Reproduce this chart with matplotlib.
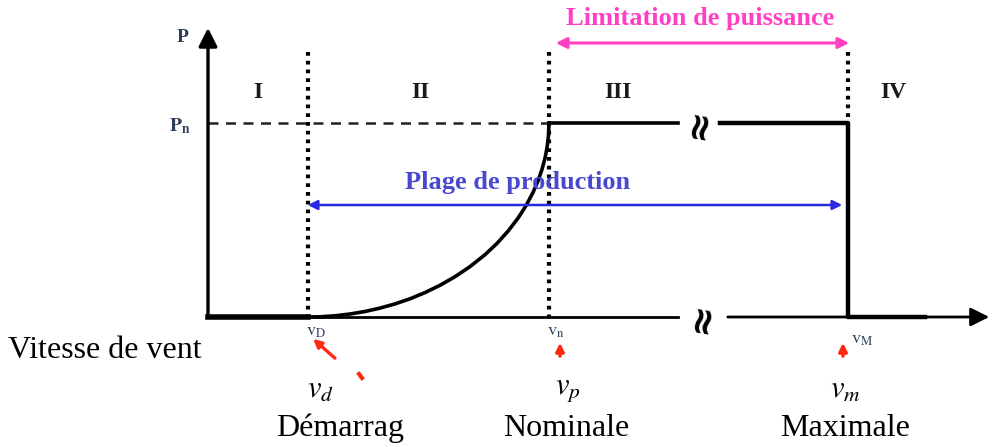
import matplotlib
matplotlib.use("Agg")
import matplotlib.pyplot as plt

plt.rcParams['font.family'] = ['Liberation Serif', 'DejaVu Serif']
plt.rcParams['mathtext.fontset'] = 'stix'

# schematic positions (figure pixels, y downward)
x0 = 208          # origin of the axes
y0 = 317
x_end = 992
y_top = 25
v_marks = [308, 549, 848]          # v_D, v_n, v_M
p_n = 123
zone_names = ['I', 'II', 'III', 'IV']
zone_x = [258, 420, 618, 893]
tick_names = [r'$\mathrm{v}_{\mathrm{D}}$', r'$\mathrm{v}_{\mathrm{n}}$', r'$\mathrm{v}_{\mathrm{M}}$']
tick_x = [316, 556, 862]
tick_y = [331, 332, 339]
speed_syms = [r'$v_d$', r'$v_p$', r'$v_m$']
speed_names = ['Démarrag', 'Nominale', 'Maximale']
speed_x = [340, 566, 845]
sym_x = [320, 568, 845]

# power curve between v_D and v_n
curve_x = [308, 320, 335, 350, 365, 380, 395, 410, 425, 440, 455, 470, 485, 497,
           508, 518, 526, 533, 538, 542, 545, 547, 548.5, 549]
curve_y = [317, 316.8, 315.8, 314.0, 311.5, 308.1, 303.9, 298.8, 292.6, 285.3, 276.7,
           266.6, 254.7, 243.4, 231.2, 218.2, 205.7, 192.5, 180.9, 169.4, 158.2, 147.9,
           135.5, 123]

fig = plt.figure(figsize=(9.94, 4.47), dpi=100)
ax = fig.add_axes([0, 0, 1, 1])
ax.set_xlim(0, 994)
ax.set_ylim(447, 0)
ax.axis('off')

k = 'black'
# axes
ax.annotate('', xy=(x0, y_top), xytext=(x0, y0 + 1),
            arrowprops=dict(arrowstyle='-|>', lw=2.4, color=k, mutation_scale=28))
ax.plot([x0, 678], [y0, y0], color=k, lw=2.0)
ax.annotate('', xy=(x_end, y0), xytext=(725, y0),
            arrowprops=dict(arrowstyle='-|>', lw=2.0, color=k, mutation_scale=28))
ax.text(703, y0 + 1, '≈', rotation=80, fontsize=27, ha='center', va='center',
        fontweight='bold', family='DejaVu Sans')

# dotted verticals
for i, xv in enumerate(v_marks):
    top = 52
    bot = y0 if i < 2 else p_n
    ax.plot([xv, xv], [top, bot], color=k, lw=3, ls=(0, (0.9, 1.2)))

# Pn dashed
ax.plot([x0, v_marks[1]], [p_n, p_n], color='#222222', lw=1.8, ls=(0, (4, 3)))

# power curve
ax.plot([x0, v_marks[0]], [y0, y0], color=k, lw=4)
ax.plot(curve_x, curve_y, color=k, lw=2.6, solid_joinstyle='round')
ax.plot([v_marks[1], 678], [p_n, p_n], color=k, lw=2.6)
ax.plot([720, v_marks[2], v_marks[2], 925], [p_n, p_n, y0, y0], color=k, lw=3.2)
ax.text(700, p_n + 1, '≈', rotation=80, fontsize=27, ha='center', va='center',
        fontweight='bold', family='DejaVu Sans')

# zone labels
for name, xz in zip(zone_names, zone_x):
    ax.text(xz, 93, name, fontsize=17, fontweight='bold', ha='center', va='center',
            color='#1a1a1a')

# P labels
lab_c = '#2c3e5a'
ax.text(183, 38, 'P', fontsize=14, fontweight='bold', ha='center', va='center', color=lab_c)
ax.text(180, 126, r'$\mathbf{P}_{\mathbf{n}}$', fontsize=14, ha='center', va='center', color=lab_c)

# limitation de puissance
mag = '#ff3fc4'
ax.annotate('', xy=(553, 43), xytext=(852, 43),
            arrowprops=dict(arrowstyle='<|-|>', lw=2.2, color=mag, mutation_scale=16))
ax.text(700, 19, 'Limitation de puissance', fontsize=19, fontweight='bold', color=mag,
        ha='center', va='center')

# plage de production
blu = '#2a2ae0'
ax.annotate('', xy=(305, 205), xytext=(845, 205),
            arrowprops=dict(arrowstyle='<|-|>', lw=1.8, color=blu, mutation_scale=14))
ax.text(518, 182, 'Plage de production', fontsize=19, fontweight='bold', color='#4848d0',
        ha='center', va='center')

# tick labels under x axis
for t, xt, yt in zip(tick_names, tick_x, tick_y):
    ax.text(xt, yt, t, fontsize=13, color=lab_c, ha='center', va='center')

# red pointers
red = '#ff2a10'
ax.annotate('', xy=(311, 337), xytext=(337, 360),
            arrowprops=dict(arrowstyle='-|>', lw=2.4, color=red, mutation_scale=12))
ax.plot([359, 362], [374, 378], color=red, lw=3)
ax.annotate('', xy=(560, 340), xytext=(560, 359),
            arrowprops=dict(arrowstyle='-|>', lw=2.4, color=red, mutation_scale=12))
ax.annotate('', xy=(843, 340), xytext=(843, 359),
            arrowprops=dict(arrowstyle='-|>', lw=2.4, color=red, mutation_scale=12))

# bottom text
ax.text(8, 350, 'Vitesse de vent', fontsize=23, ha='left', va='center')
for s, n, xs, xm in zip(speed_syms, speed_names, speed_x, sym_x):
    ax.text(xm, 390, s, fontsize=22, ha='center', va='center')
    ax.text(xs, 428, n, fontsize=23, ha='center', va='center')

fig.savefig('out.png', dpi=100)
